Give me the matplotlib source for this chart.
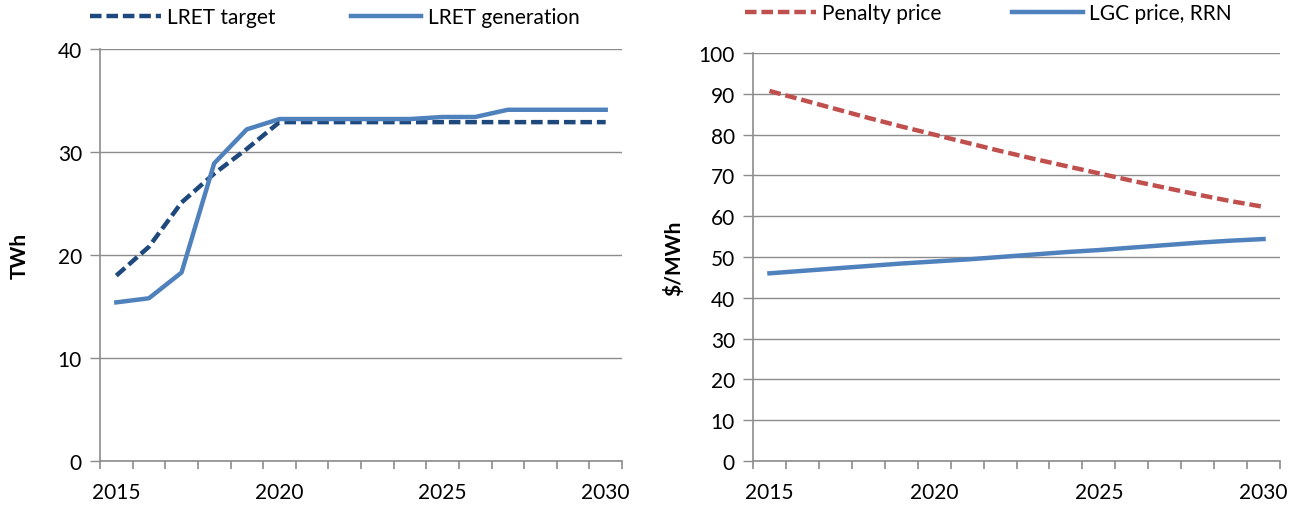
import matplotlib
matplotlib.use("Agg")
import matplotlib.pyplot as plt
from matplotlib.ticker import MultipleLocator, FixedLocator

plt.rcParams['font.family'] = ['Lato', 'DejaVu Sans']

years = list(range(2015, 2031))
lret_target = [18.0, 20.8, 25.1, 27.9, 30.3, 32.9, 32.9, 32.9, 32.9, 32.9,
               32.9, 32.9, 32.9, 32.9, 32.9, 32.9]
lret_gen = [15.4, 15.8, 18.3, 28.9, 32.2, 33.2, 33.2, 33.2, 33.2, 33.2,
            33.4, 33.4, 34.1, 34.1, 34.1, 34.1]
penalty = [90.7, 88.5, 86.3, 84.1, 82.0, 80.0, 78.0, 76.0, 74.1, 72.3,
           70.5, 68.7, 67.0, 65.3, 63.7, 62.3]
lgc_price = [46.0, 46.6, 47.2, 47.8, 48.4, 48.9, 49.4, 50.0, 50.6, 51.2,
             51.7, 52.3, 52.9, 53.5, 54.0, 54.4]
year_labels = ["2015", "2020", "2025", "2030"]

GRID = "#8c8c8c"
FS = 15

fig = plt.figure(figsize=(13.04, 5.10), dpi=100)
W, H = 1304, 510
ax1 = fig.add_axes([100 / W, 1 - 462 / H, 522 / W, 412 / H])
ax2 = fig.add_axes([753 / W, 1 - 462 / H, 527 / W, 408 / H])

x = list(range(len(years)))


def style(ax, ymax, ystep, ylabel):
    ax.set_xlim(-0.5, len(years) - 0.5)
    ax.set_ylim(0, ymax)
    for s in ["top", "right"]:
        ax.spines[s].set_visible(False)
    for s in ["left", "bottom"]:
        ax.spines[s].set_color(GRID)
        ax.spines[s].set_linewidth(1.2)
    ax.yaxis.set_major_locator(MultipleLocator(ystep))
    ax.yaxis.grid(True, color=GRID, linewidth=1.0)
    ax.set_axisbelow(True)
    ax.xaxis.set_major_locator(FixedLocator([0, 5, 10, 15]))
    ax.set_xticklabels(year_labels)
    ax.xaxis.set_minor_locator(FixedLocator([i - 0.5 for i in range(len(years) + 1)]))
    ax.tick_params(axis="x", which="major", length=0, pad=15, labelsize=FS)
    ax.tick_params(axis="x", which="minor", length=5.5, width=1.2, color=GRID)
    ax.tick_params(axis="y", length=7, width=1.0, color=GRID, pad=6, labelsize=FS)
    ax.set_ylabel(ylabel, fontsize=FS, fontweight="bold")


style(ax1, 40, 10, "TWh")
ax1.plot(x, lret_target, color="#1f497d", lw=3.2, ls=(0, (2.6, 1.1)),
         label="LRET target", dash_capstyle="butt")
ax1.plot(x, lret_gen, color="#4f81bd", lw=3.2, label="LRET generation")
ax1.yaxis.set_label_coords(-0.135, 0.5)
ax1.legend(loc="center left", bbox_to_anchor=(-10 / 522, 1 + 32 / 412), ncol=2,
           frameon=False, fontsize=FS, handlelength=3.4, columnspacing=3.6,
           handletextpad=0.3, borderaxespad=0, borderpad=0)

style(ax2, 100, 10, "$/MWh")
ax2.plot(x, penalty, color="#c0504d", lw=3.2, ls=(0, (2.6, 1.1)), label="Penalty price")
ax2.plot(x, lgc_price, color="#4f81bd", lw=3.2, label="LGC price, RRN")
ax2.yaxis.set_label_coords(-0.13, 0.5)
ax2.legend(loc="center left", bbox_to_anchor=(-8 / 527, 1 + 40 / 408), ncol=2,
           frameon=False, fontsize=FS, handlelength=3.4, columnspacing=3.4,
           handletextpad=0.3, borderaxespad=0, borderpad=0)

fig.savefig("out.png", dpi=100)
